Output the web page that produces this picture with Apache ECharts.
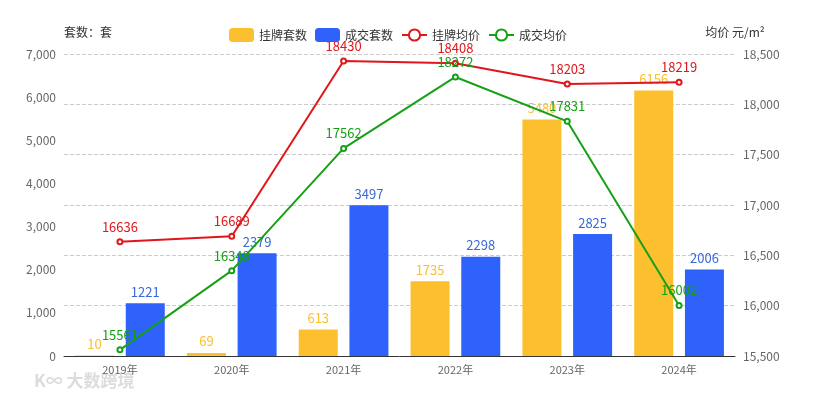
<!DOCTYPE html>
<html>
<head>
<meta charset="utf-8">
<script src="https://cdn.jsdelivr.net/npm/echarts@6/dist/echarts.min.js"></script>
<style>
  html, body { margin: 0; padding: 0; background: #fff; }
  #chart { width: 816px; height: 399px; }
</style>
</head>
<body>
<div id="chart"></div>
<script>
// data
var years = ['2019年', '2020年', '2021年', '2022年', '2023年', '2024年'];
var listCount = [10, 69, 613, 1735, 5480, 6156];     // 挂牌套数
var dealCount = [1221, 2379, 3497, 2298, 2825, 2006]; // 成交套数
var listPrice = [16636, 16689, 18430, 18408, 18203, 18219]; // 挂牌均价
var dealPrice = [15561, 16348, 17562, 18272, 17831, 16002]; // 成交均价

var YELLOW = '#FCC02E', BLUE = '#2E62FA', RED = '#E0161A', GREEN = '#16A016';
var font = '"Noto Sans CJK SC", "Noto Sans", sans-serif';

var chart = echarts.init(document.getElementById('chart'));

chart.setOption({
  animation: false,
  textStyle: { fontFamily: font },
  grid: { left: 64, right: 81, top: 54, bottom: 43 },
  legend: {
    left: 224, top: 23,
    itemWidth: 25, itemHeight: 14, itemGap: 8,
    textStyle: { fontSize: 12, color: '#333' },
    data: [
      { name: '挂牌套数', icon: 'roundRect' },
      { name: '成交套数', icon: 'roundRect' },
      '挂牌均价', '成交均价'
    ]
  },
  // faint watermark, bottom left
  graphic: [{
    type: 'text', left: 34, top: 372,
    style: { text: 'K∞ 大数跨境', fill: '#dcdcdc', font: 'bold 17px ' + font }
  }],
  xAxis: {
    type: 'category',
    data: years,
    axisTick: { show: false },
    axisLine: { lineStyle: { color: '#333' } },
    axisLabel: { color: '#666', fontSize: 11, margin: 8 }
  },
  yAxis: [{
    type: 'value', min: 0, max: 7000, interval: 1000,
    name: '套数：套',
    nameGap: 16,
    nameTextStyle: { color: '#333', fontSize: 12, align: 'left' },
    axisLabel: { color: '#666', fontSize: 12 },
    axisLine: { show: false }, axisTick: { show: false },
    splitLine: { show: false }
  }, {
    type: 'value', min: 15500, max: 18500, interval: 500,
    name: '均价 元/m²',
    nameGap: 16,
    nameTextStyle: { color: '#333', fontSize: 12 },
    axisLabel: { color: '#666', fontSize: 12 },
    axisLine: { show: false }, axisTick: { show: false },
    splitLine: { lineStyle: { type: 'dashed', color: '#ccc' } }
  }],
  series: [{
    name: '挂牌套数', type: 'bar', data: listCount,
    barWidth: 39, barGap: '30%',
    itemStyle: { color: YELLOW },
    label: { show: true, position: 'top', color: YELLOW, fontSize: 13 }
  }, {
    name: '成交套数', type: 'bar', data: dealCount,
    barWidth: 39,
    itemStyle: { color: BLUE },
    label: { show: true, position: 'top', color: '#3A68D6', fontSize: 13 }
  }, {
    name: '挂牌均价', type: 'line', yAxisIndex: 1, data: listPrice,
    symbol: 'emptyCircle', symbolSize: 5,
    lineStyle: { color: RED, width: 2 }, itemStyle: { color: RED },
    label: { show: true, position: 'top', color: RED, fontSize: 13 }
  }, {
    name: '成交均价', type: 'line', yAxisIndex: 1, data: dealPrice,
    symbol: 'emptyCircle', symbolSize: 5,
    lineStyle: { color: GREEN, width: 2 }, itemStyle: { color: GREEN },
    label: { show: true, position: 'top', color: GREEN, fontSize: 13 }
  }]
});
</script>
</body>
</html>
